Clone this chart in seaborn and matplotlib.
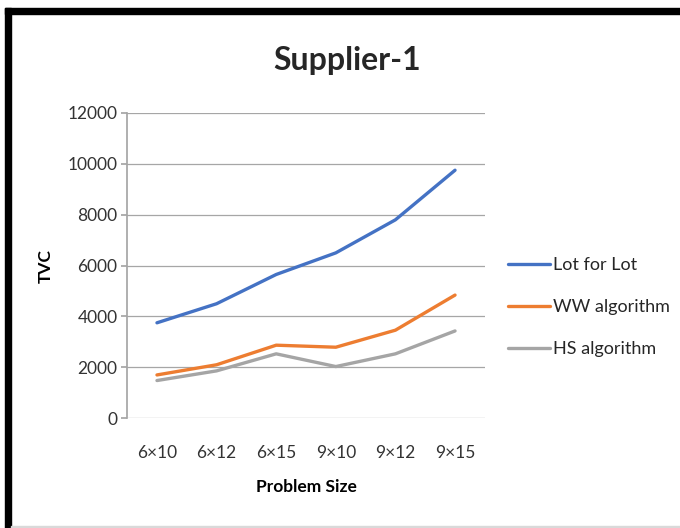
import pandas as pd
import matplotlib.pyplot as plt
import seaborn as sns
from matplotlib.patches import Rectangle

sns.set_theme(style="white")
plt.rcParams['font.family'] = ['Lato', 'DejaVu Sans']

# data
sizes = ['6×10', '6×12', '6×15', '9×10', '9×12', '9×15']
lot_for_lot = [3750, 4500, 5650, 6500, 7800, 9750]
ww_algorithm = [1700, 2100, 2870, 2790, 3460, 4840]
hs_algorithm = [1480, 1860, 2530, 2030, 2530, 3430]

df = pd.DataFrame({
    'Problem Size': sizes * 3,
    'TVC': lot_for_lot + ww_algorithm + hs_algorithm,
    'Series': ['Lot for Lot'] * 6 + ['WW algorithm'] * 6 + ['HS algorithm'] * 6,
})
palette = {'Lot for Lot': '#4472c4', 'WW algorithm': '#ed7d31', 'HS algorithm': '#a5a5a5'}

fig = plt.figure(figsize=(6.8, 5.28), dpi=100)
ax = fig.add_axes([0.187, 0.208, 0.526, 0.578])

sns.lineplot(data=df, x='Problem Size', y='TVC', hue='Series', palette=palette,
             linewidth=2.4, sort=False, ax=ax)

ax.set_xlim(-0.5, 5.5)
ax.set_ylim(0, 12000)
ax.set_yticks(range(0, 12001, 2000))
ax.yaxis.grid(True, color='#a6a6a6', linewidth=0.9)
ax.xaxis.grid(False)
for side in ['top', 'right', 'bottom']:
    ax.spines[side].set_visible(False)
ax.spines['left'].set_color('#a6a6a6')
ax.tick_params(axis='y', left=True, length=4, color='#a6a6a6', labelsize=12.5,
               labelcolor='#333333', pad=3)
ax.tick_params(axis='x', bottom=False, labelsize=12.5, labelcolor='#333333', pad=13)

ax.set_xlabel('Problem Size', fontsize=12.5, fontweight='bold', color='black', labelpad=13)
ax.set_ylabel('TVC', fontsize=12.5, fontweight='bold', color='black', labelpad=10)
fig.text(0.51, 0.885, 'Supplier-1', ha='center', va='center', fontsize=23, fontweight='bold')

leg = ax.legend(loc='center left', bbox_to_anchor=(1.02, 0.364), frameon=False,
                fontsize=13, handlelength=2.3, handletextpad=0.2, labelspacing=1.45)
for txt in leg.get_texts():
    txt.set_color('#262626')

# frame around the picture: black top and left bars, thin grey bottom
fig.patches.append(Rectangle((0.008, 0.974), 0.992, 0.011, transform=fig.transFigure,
                             color='black', zorder=5))
fig.patches.append(Rectangle((0.008, 0.0), 0.008, 0.985, transform=fig.transFigure,
                             color='black', zorder=5))
fig.patches.append(Rectangle((0.016, 0.0), 0.984, 0.004, transform=fig.transFigure,
                             color='#d9d9d9', zorder=5))

fig.savefig('out.png', dpi=100)
